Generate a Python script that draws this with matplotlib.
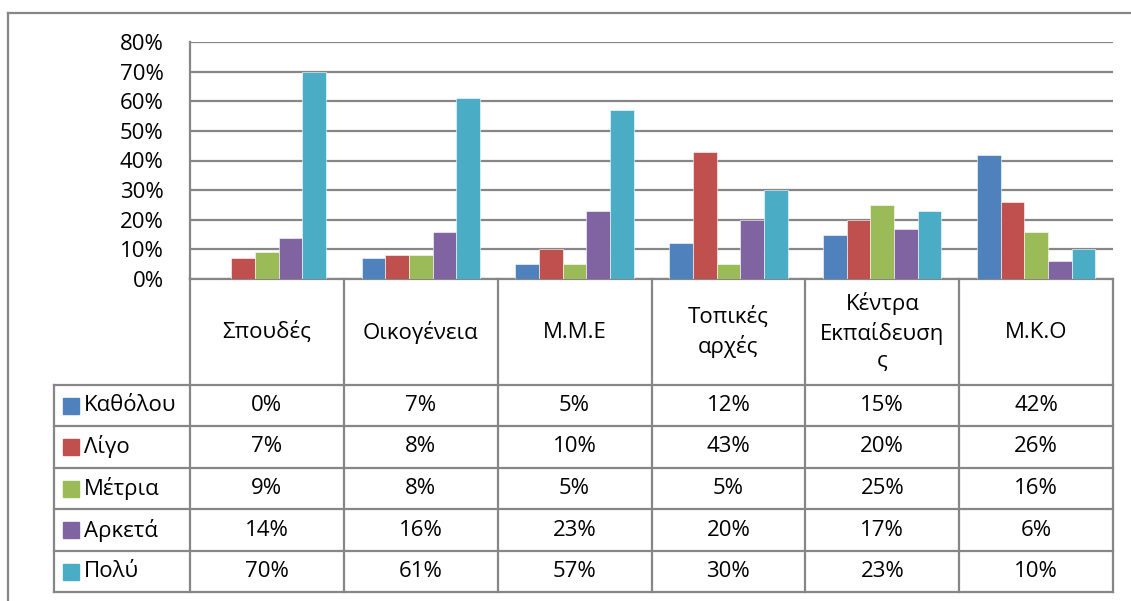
import matplotlib
matplotlib.use("Agg")
import matplotlib.pyplot as plt
from matplotlib.lines import Line2D
from matplotlib.patches import Rectangle

plt.rcParams["font.family"] = ["Open Sans", "DejaVu Sans"]

categories = ["Σπουδές", "Οικογένεια", "Μ.Μ.Ε", "Τοπικές\nαρχές",
              "Κέντρα\nΕκπαίδευση\nς", "Μ.Κ.Ο"]
series = ["Καθόλου", "Λίγο", "Μέτρια", "Αρκετά", "Πολύ"]
values = [
    [0, 7, 5, 12, 15, 42],
    [7, 8, 10, 43, 20, 26],
    [9, 8, 5, 5, 25, 16],
    [14, 16, 23, 20, 17, 6],
    [70, 61, 57, 30, 23, 10],
]
colors = ["#4F81BD", "#C0504D", "#9BBB59", "#8064A2", "#4BACC6"]
yticks = [0, 10, 20, 30, 40, 50, 60, 70, 80]

W, H = 1131, 601
GRID = "#868686"
FS = 16


def fx(x):
    return x / W


def fy(y):
    return 1 - y / H


fig = plt.figure(figsize=(W / 100, H / 100), dpi=100)

# plot area
left, right, top, base = 190, 1113, 42, 279
ax = fig.add_axes([fx(left), fy(base), fx(right - left), (base - top) / H])
n_cat = len(categories)
n_ser = len(series)
bw = 1 / 6.5
for j, (name, vals) in enumerate(zip(series, values)):
    xs = [i + (j - (n_ser - 1) / 2) * bw for i in range(n_cat)]
    ax.bar(xs, [v / 100 for v in vals], width=bw, color=colors[j], zorder=3,
           edgecolor="white", linewidth=0.4)
ax.set_xlim(-0.5, n_cat - 0.5)
ax.set_ylim(0, 0.8)
ax.set_yticks([t / 100 for t in yticks])
ax.set_yticklabels([f"{t}%" for t in yticks], fontsize=FS)
ax.tick_params(axis="y", length=0, pad=19)
ax.set_xticks([])
ax.grid(axis="y", color=GRID, linewidth=1.6, zorder=0)
for s in ["top", "right"]:
    ax.spines[s].set_visible(False)
ax.spines["left"].set_color(GRID)
ax.spines["left"].set_linewidth(1.6)
ax.spines["bottom"].set_color(GRID)
ax.spines["bottom"].set_linewidth(1.6)


def line(x0, y0, x1, y1, lw=1.6):
    fig.add_artist(Line2D([fx(x0), fx(x1)], [fy(y0), fy(y1)],
                          color=GRID, linewidth=lw))


# outer chart border
line(8, 13, W + 5, 13)
line(8, 13, 8, H + 5)

# data table
col_w = (right - left) / n_cat
row_y = [385, 426, 468, 509, 551, 592]
leg_x = 54
for k in range(n_cat + 1):
    x = left + k * col_w
    line(x, base, x, row_y[-1])
line(leg_x, row_y[0], leg_x, row_y[-1])
for y in row_y:
    line(leg_x, y, right, y)

for i, cat in enumerate(categories):
    cx = left + (i + 0.5) * col_w
    fig.text(fx(cx), fy((base + row_y[0]) / 2), cat, ha="center", va="center",
             fontsize=FS, linespacing=1.4)

for j, name in enumerate(series):
    cy = (row_y[j] + row_y[j + 1]) / 2
    fig.add_artist(Rectangle((fx(63), fy(cy + 8)), 16 / W, 16 / H,
                             color=colors[j], transform=fig.transFigure))
    fig.text(fx(84), fy(cy), name, ha="left", va="center", fontsize=FS)
    for i in range(n_cat):
        cx = left + (i + 0.5) * col_w
        fig.text(fx(cx), fy(cy), f"{values[j][i]}%", ha="center", va="center",
                 fontsize=FS)

fig.savefig("out.png", dpi=100)
